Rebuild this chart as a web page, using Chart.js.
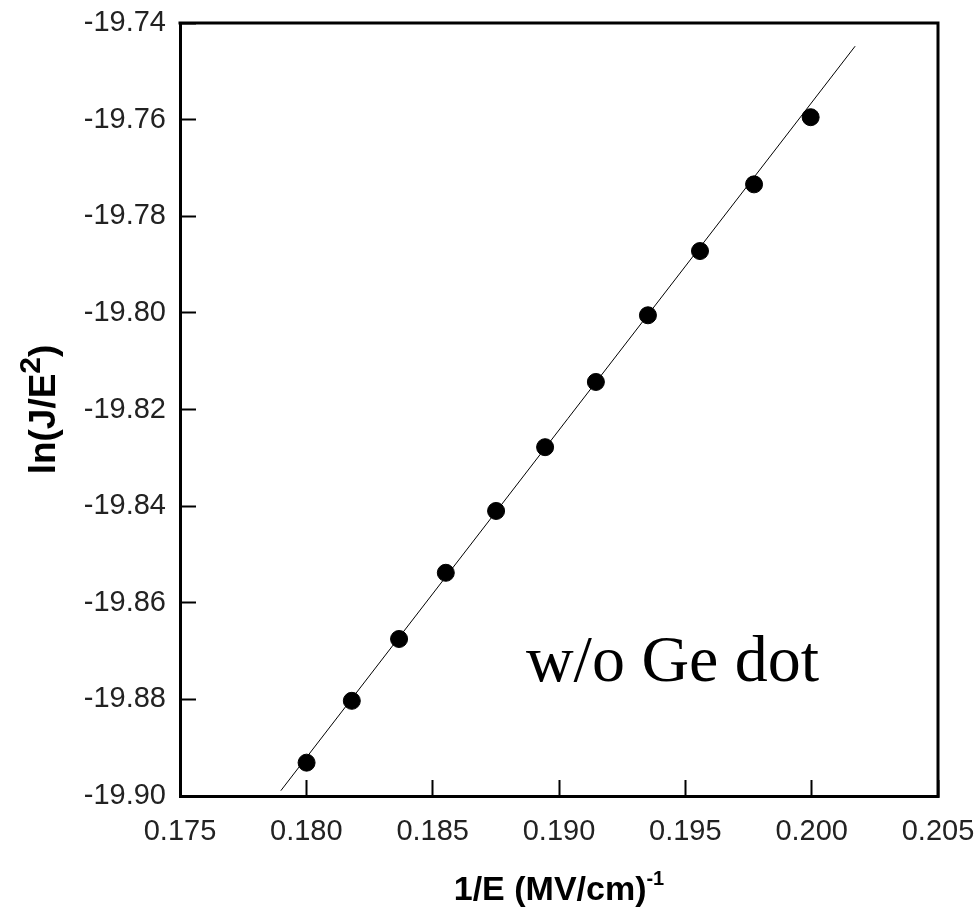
<!DOCTYPE html>
<html>
<head>
<meta charset="utf-8">
<script src="https://cdn.jsdelivr.net/npm/chart.js@4.4.1/dist/chart.umd.min.js"></script>
<style>
  html, body { margin: 0; padding: 0; background: #fff; }
  #wrap { width: 977px; height: 915px; }
</style>
</head>
<body>
<div id="wrap"><canvas id="fn-chart" width="977" height="915"></canvas></div>
<script>
// measured points, 1/E (MV/cm)^-1 vs ln(J/E^2)
const invField = [0.18001, 0.18180, 0.18367, 0.18552, 0.18751, 0.18945, 0.19146, 0.19352, 0.19558, 0.19772, 0.19996];
const lnJE2 = [-19.8931, -19.8803, -19.8675, -19.8538, -19.8410, -19.8278, -19.8143, -19.8005, -19.7872, -19.7734, -19.7595];

// straight-line fit, end points as drawn
const fitX = [0.17899, 0.20172];
const fitY = [-19.8989, -19.7448];

const xTicks = [0.175, 0.180, 0.185, 0.190, 0.195, 0.200, 0.205];
const yTicks = [-19.90, -19.88, -19.86, -19.84, -19.82, -19.80, -19.78, -19.76, -19.74];

// axis titles as [text, superscript, tail]
const xTitle = ["1/E (MV/cm)", "-1", ""];
const yTitle = ["ln(J/E", "2", ")"];

const noteText = "w/o Ge dot";
const notePos = [0.18869, -19.8763];

const sansFont = "'Liberation Sans', Arial, sans-serif";

// writes base + raised superscript + tail, centred on x=0 of the current transform
function drawSupText(ctx, parts, size, supSize, rise) {
  const base = "bold " + size + "px " + sansFont;
  const sup = "bold " + supSize + "px " + sansFont;
  ctx.font = base;
  const w1 = ctx.measureText(parts[0]).width;
  const w3 = ctx.measureText(parts[2]).width;
  ctx.font = sup;
  const w2 = ctx.measureText(parts[1]).width;
  let x = -(w1 + w2 + w3) / 2;
  ctx.font = base;
  ctx.fillText(parts[0], x, 0);
  x += w1;
  ctx.font = sup;
  ctx.fillText(parts[1], x, -rise);
  x += w2;
  ctx.font = base;
  ctx.fillText(parts[2], x, 0);
}

// closes the box (top + right), axis titles and the sample note
const framePlugin = {
  id: "frame",
  afterDraw(chart) {
    const { ctx, chartArea: a, scales } = chart;
    ctx.save();
    ctx.strokeStyle = "#000";
    ctx.lineWidth = 3;
    ctx.beginPath();
    ctx.moveTo(a.left - 1.5, a.top);
    ctx.lineTo(a.right, a.top);
    ctx.lineTo(a.right, a.bottom + 1.5);
    ctx.stroke();

    ctx.fillStyle = "#000";
    ctx.textAlign = "left";
    ctx.textBaseline = "alphabetic";

    ctx.save();
    ctx.translate((a.left + a.right) / 2, 900);
    drawSupText(ctx, xTitle, 34, 20, 15);
    ctx.restore();

    ctx.save();
    ctx.translate(55, (a.top + a.bottom) / 2);
    ctx.rotate(-Math.PI / 2);
    drawSupText(ctx, yTitle, 37, 30, 15);
    ctx.restore();

    ctx.font = "66px 'Liberation Serif', 'Times New Roman', serif";
    ctx.fillText(noteText, scales.x.getPixelForValue(notePos[0]), scales.y.getPixelForValue(notePos[1]));
    ctx.restore();
  }
};

const ctx = document.getElementById("fn-chart").getContext("2d");
new Chart(ctx, {
  type: "scatter",
  data: {
    datasets: [
      {
        type: "line",
        data: fitX.map((x, i) => ({ x: x, y: fitY[i] })),
        borderColor: "#000",
        borderWidth: 1,
        pointRadius: 0,
        fill: false,
        order: 2,
      },
      {
        data: invField.map((x, i) => ({ x: x, y: lnJE2[i] })),
        backgroundColor: "#000",
        borderColor: "#000",
        pointRadius: 8.5,
        pointHoverRadius: 8.5,
        order: 1,
      },
    ],
  },
  options: {
    responsive: false,
    animation: false,
    events: [],
    layout: { padding: { top: 23, right: 39, bottom: 0, left: 0 } },
    plugins: {
      legend: { display: false },
      tooltip: { enabled: false },
    },
    scales: {
      x: {
        type: "linear",
        position: "bottom",
        min: 0.175,
        max: 0.205,
        afterBuildTicks: (scale) => {
          scale.ticks = xTicks.map((v) => ({ value: v }));
        },
        afterFit: (scale) => {
          scale.height = 119;
          // label padding would otherwise eat into the plot width
          scale.paddingLeft = 0;
          scale.paddingRight = 0;
        },
        ticks: {
          callback: (value) => value.toFixed(3),
          padding: 35,
          color: "#222",
          autoSkip: false,
          maxRotation: 0,
          font: { family: sansFont, size: 29 },
        },
        grid: {
          drawOnChartArea: false,
          drawTicks: true,
          tickLength: -16, // inward ticks
          tickWidth: 2,
          tickColor: "#000",
        },
        border: { display: true, color: "#000", width: 3 },
        title: { display: false },
      },
      y: {
        type: "linear",
        position: "left",
        min: -19.9,
        max: -19.74,
        afterBuildTicks: (scale) => {
          scale.ticks = yTicks.map((v) => ({ value: v }));
        },
        afterFit: (scale) => {
          scale.width = 180;
          scale.paddingTop = 0;
          scale.paddingBottom = 0;
        },
        ticks: {
          callback: (value) => value.toFixed(2),
          padding: 30,
          color: "#222",
          autoSkip: false,
          font: { family: sansFont, size: 29 },
        },
        grid: {
          drawOnChartArea: false,
          drawTicks: true,
          tickLength: -16,
          tickWidth: 2,
          tickColor: "#000",
        },
        border: { display: true, color: "#000", width: 3 },
        title: { display: false },
      },
    },
  },
  plugins: [framePlugin],
});
</script>
</body>
</html>
